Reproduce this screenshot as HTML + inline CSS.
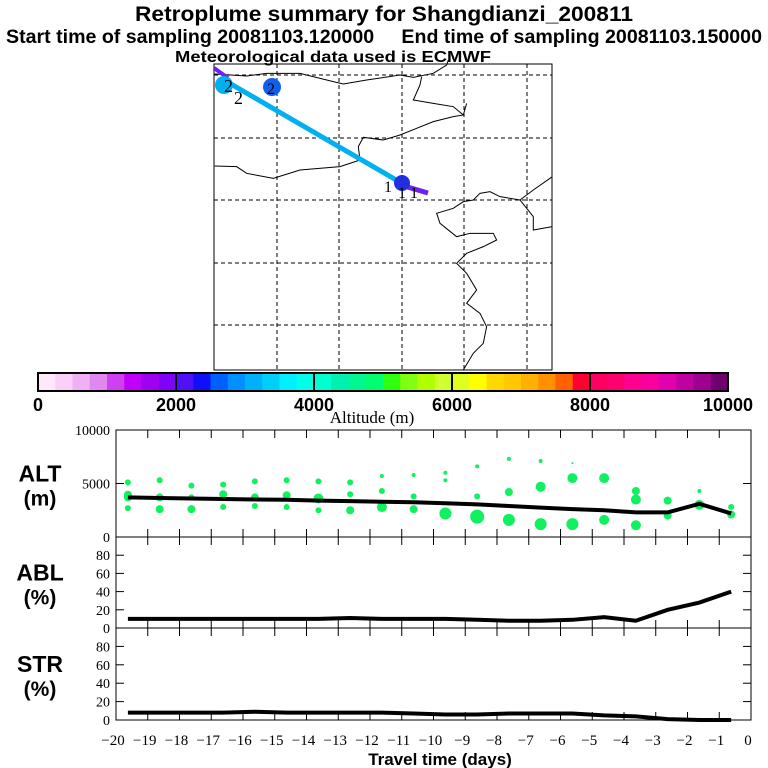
<!DOCTYPE html>
<html><head><meta charset="utf-8"><style>
body{margin:0;background:#fff;width:768px;height:768px;overflow:hidden}
svg{display:block}
.t{font-family:"Liberation Sans",sans-serif;font-weight:bold}
.s{font-family:"Liberation Serif",serif}
</style></head><body>
<svg id="c" width="768" height="768" viewBox="0 0 768 768" xmlns="http://www.w3.org/2000/svg">
<text class="t" x="384" y="21" font-size="21" text-anchor="middle" textLength="498" lengthAdjust="spacingAndGlyphs">Retroplume summary for Shangdianzi_200811</text>
<text class="t" x="384" y="43" font-size="19" text-anchor="middle" textLength="756" lengthAdjust="spacingAndGlyphs" xml:space="preserve">Start time of sampling 20081103.120000     End time of sampling 20081103.150000</text>
<text class="t" x="333" y="62" font-size="16" text-anchor="middle" textLength="316" lengthAdjust="spacingAndGlyphs">Meteorological data used is ECMWF</text>
<g id="map">
<rect x="214" y="64" width="338" height="306" fill="none" stroke="#000" stroke-width="1"/>
<g stroke="#000" stroke-dasharray="4,3" stroke-width="1">
<line x1="277" y1="64" x2="277" y2="370"/><line x1="339" y1="64" x2="339" y2="370"/><line x1="402" y1="64" x2="402" y2="370"/><line x1="464" y1="64" x2="464" y2="370"/><line x1="527" y1="64" x2="527" y2="370"/>
<line x1="214" y1="75" x2="552" y2="75"/><line x1="214" y1="138" x2="552" y2="138"/><line x1="214" y1="200" x2="552" y2="200"/><line x1="214" y1="263" x2="552" y2="263"/><line x1="214" y1="325" x2="552" y2="325"/>
</g>
<g transform="translate(200,60) scale(0.3333)" fill="none" stroke="#000" stroke-width="3">
<polyline points="44,42 140,48 200,40 300,40 400,65 430,72 500,60 600,45 640,52 700,40 740,15 745,0"/>
<polyline points="665,50 660,75 640,120 700,130 760,140 790,165"/>
<polyline points="44,318 110,320 140,340 220,355 300,330 420,320 480,300 475,260 490,232 550,240 600,225 650,205 700,185 760,170 790,165 800,130"/>
<polyline points="1057,350 1000,390 960,420 900,410 870,395 840,400 820,420 790,425 760,445 710,460 720,490 770,530 810,520 880,520 890,540 850,560 800,580 770,610 800,640 830,690 800,730 840,760 860,800 850,850 820,880 790,930"/>
<polyline points="960,420 1000,470 1000,510 1057,500"/>
</g>
<line x1="224" y1="80" x2="410" y2="188" stroke="#00b0f0" stroke-width="5"/>
<line x1="214" y1="68" x2="228" y2="78" stroke="#7020f0" stroke-width="4"/>
<line x1="404" y1="186" x2="428" y2="193" stroke="#7020f0" stroke-width="5"/>
<circle cx="224" cy="85" r="9" fill="#00b0f0"/>
<circle cx="272" cy="87" r="9" fill="#1060f0"/>
<circle cx="402" cy="183" r="8" fill="#2030e0"/>
<text class="s" x="224" y="92" font-size="18">2</text>
<text class="s" x="234" y="104" font-size="18">2</text>
<text class="s" x="267" y="94" font-size="16">2</text>
<text class="s" x="384" y="192" font-size="16">1</text>
<text class="s" x="398" y="198" font-size="16">1 1</text>
</g>
<g id="cbar"></g>
<text class="s" x="372" y="423" font-size="17" text-anchor="middle">Altitude (m)</text>
<g id="panels"></g>
<text class="t" x="440" y="765" font-size="17" text-anchor="middle">Travel time (days)</text>
</svg>
<script>
const NS="http://www.w3.org/2000/svg";
const svg=document.getElementById('c');
function mk(tag,attrs,parent){const e=document.createElementNS(NS,tag);for(const k in attrs)e.setAttribute(k,attrs[k]);(parent||svg).appendChild(e);return e;}

const cbarColors=["#ffe8fa","#fad0f8","#f0b0f5","#e088f0","#d040f0","#c000f8","#a000f0","#8000f8",
"#5010f8","#1010f8","#0060ff","#0090ff","#00b0f8","#00d0f8","#00f0ff","#00ffe8",
"#00ffd0","#00f0b0","#00f890","#00ff70","#30ff10","#80ff10","#b0ff00","#d0ff30",
"#e0ff20","#ffff00","#ffd800","#ffc800","#ffb000","#ff9000","#ff6000","#ff0030",
"#ff0060","#ff0070","#ff0090","#f800a0","#e000b0","#c000a0","#a00090","#700070"];
const cbarTicks=[0,2000,4000,6000,8000,10000];

// chart data
const days=[-19.625,-18.625,-17.625,-16.625,-15.625,-14.625,-13.625,-12.625,-11.625,-10.625,-9.625,-8.625,-7.625,-6.625,-5.625,-4.625,-3.625,-2.625,-1.625,-0.625];
const altMean=[3700,3650,3600,3550,3500,3480,3400,3350,3300,3250,3150,3050,2900,2750,2600,2500,2300,2300,3100,2200];
const ablPct=[10,10,10,10,10,10,10,11,10,10,10,9,8,8,9,12,8,20,28,40];
const strPct=[8,8,8,8,9,8,8,8,8,7,6,6,7,7,7,5,4,1,0,0];
const dotAlt=[[5100,3950,3700,2700],[5300,3700,2600],[4800,3700,2600],[4900,4000,2800],[5200,3700,2900],[5300,3900,2800],[5200,3600,2500],[5100,4000,2500],[5700,4300,2800],[5800,3800,2600],[6000,5300,2200],[6600,3800,1900],[7300,4200,1600],[7100,4700,1200],[6900,5500,1200],[5500,1600],[4300,3500,1100],[3400,2000],[4300,3000],[2800,2100]];
const dotSize=[[3,4,4,3],[3,4,4],[3,3,4],[3,4,3],[3,4,3],[3,4,3],[3,5,3],[3,3,4],[2,3,5],[2,3,4],[2,2,6],[2,3,7],[2,4,6],[2,5,6],[1,5,6],[5,5],[4,5,5],[4,4],[2,5],[3,4]];
const yTicks=[0,20,40,60,80];
const xTicks=[-20,-19,-18,-17,-16,-15,-14,-13,-12,-11,-10,-9,-8,-7,-6,-5,-4,-3,-2,-1,0];

// colorbar
const cb=document.getElementById('cbar');
const cbX0=38,cbX1=728,cbY=373,cbH=18;
const cw=(cbX1-cbX0)/cbarColors.length;
cbarColors.forEach((col,i)=>{
 const r=mk('rect',{x:cbX0+i*cw,y:cbY,width:cw+0.5,height:cbH,fill:col},cb);
 
 
});
cbarTicks.forEach(v=>{
 const x=cbX0+(v/10000)*(cbX1-cbX0);
 if(v>0&&v<10000) mk('line',{x1:x,y1:cbY,x2:x,y2:cbY+cbH,stroke:'#000','stroke-width':2},cb);
 const t=mk('text',{x:x,y:411,'font-size':18,'text-anchor':'middle',class:'t'},cb);
 t.textContent=v;
 
 
});
mk('rect',{x:cbX0,y:cbY,width:cbX1-cbX0,height:cbH,fill:'none',stroke:'#000','stroke-width':2},cb);

// panels
const pg=document.getElementById('panels');
const PX0=116,PX1=751;
const xs=t=>PX0+(t+20)*(PX1-PX0)/20;
function panel(name,top,bot,max,ticks,label1,label2,showX){
 const g=mk('g',{},pg);
 
 
 const ys=v=>bot-(v/max)*(bot-top);
 mk('rect',{x:PX0,y:top,width:PX1-PX0,height:bot-top,fill:'none',stroke:'#000','stroke-width':1},g);
 xTicks.forEach(t=>{const x=xs(t);
  mk('line',{x1:x,y1:top,x2:x,y2:top+8,stroke:'#000'},g);
  mk('line',{x1:x,y1:bot,x2:x,y2:bot-8,stroke:'#000'},g);
  if(showX){const tx=mk('text',{x:x-3,y:bot+25,'font-size':15,'text-anchor':'middle',class:'s'},g);tx.textContent=(t<0?'\u2212'+(-t):t);
   
   }
 });
 ticks.forEach(v=>{const y=ys(v);
  mk('line',{x1:PX0,y1:y,x2:PX0+8,y2:y,stroke:'#000'},g);
  mk('line',{x1:PX1,y1:y,x2:PX1-8,y2:y,stroke:'#000'},g);
  const tx=mk('text',{x:PX0-6,y:y+5,'font-size':14,'text-anchor':'end',class:'s'},g);tx.textContent=v;
  
  
 });
 const l1=mk('text',{x:40,y:top+(bot-top)/2-2,'font-size':23,'text-anchor':'middle',class:'t'},g);l1.textContent=label1;
 
 
 const l2=mk('text',{x:40,y:top+(bot-top)/2+22,'font-size':21,'text-anchor':'middle',class:'t'},g);l2.textContent=label2;
 
 
 return {g,ys};
}
const alt=panel('alt',430,537,10000,[0,5000,10000],'ALT','(m)',false);
dotAlt.forEach((arr,i)=>arr.forEach((v,j)=>{
 const c=mk('circle',{cx:xs(days[i]),cy:alt.ys(v),r:dotSize[i][j],fill:'#10f060'},alt.g);
 
 
}));
const altLine=mk('polyline',{points:days.map((d,i)=>xs(d)+','+alt.ys(altMean[i])).join(' '),fill:'none',stroke:'#000','stroke-width':4},alt.g);



const abl=panel('abl',537,628,100,yTicks,'ABL','(%)',false);
const ablLine=mk('polyline',{points:days.map((d,i)=>xs(d)+','+abl.ys(ablPct[i])).join(' '),fill:'none',stroke:'#000','stroke-width':4},abl.g);



const str=panel('str',628,720,100,yTicks,'STR','(%)',true);
const strLine=mk('polyline',{points:days.map((d,i)=>xs(d)+','+str.ys(strPct[i])).join(' '),fill:'none',stroke:'#000','stroke-width':4},str.g);


</script>
</body></html>
